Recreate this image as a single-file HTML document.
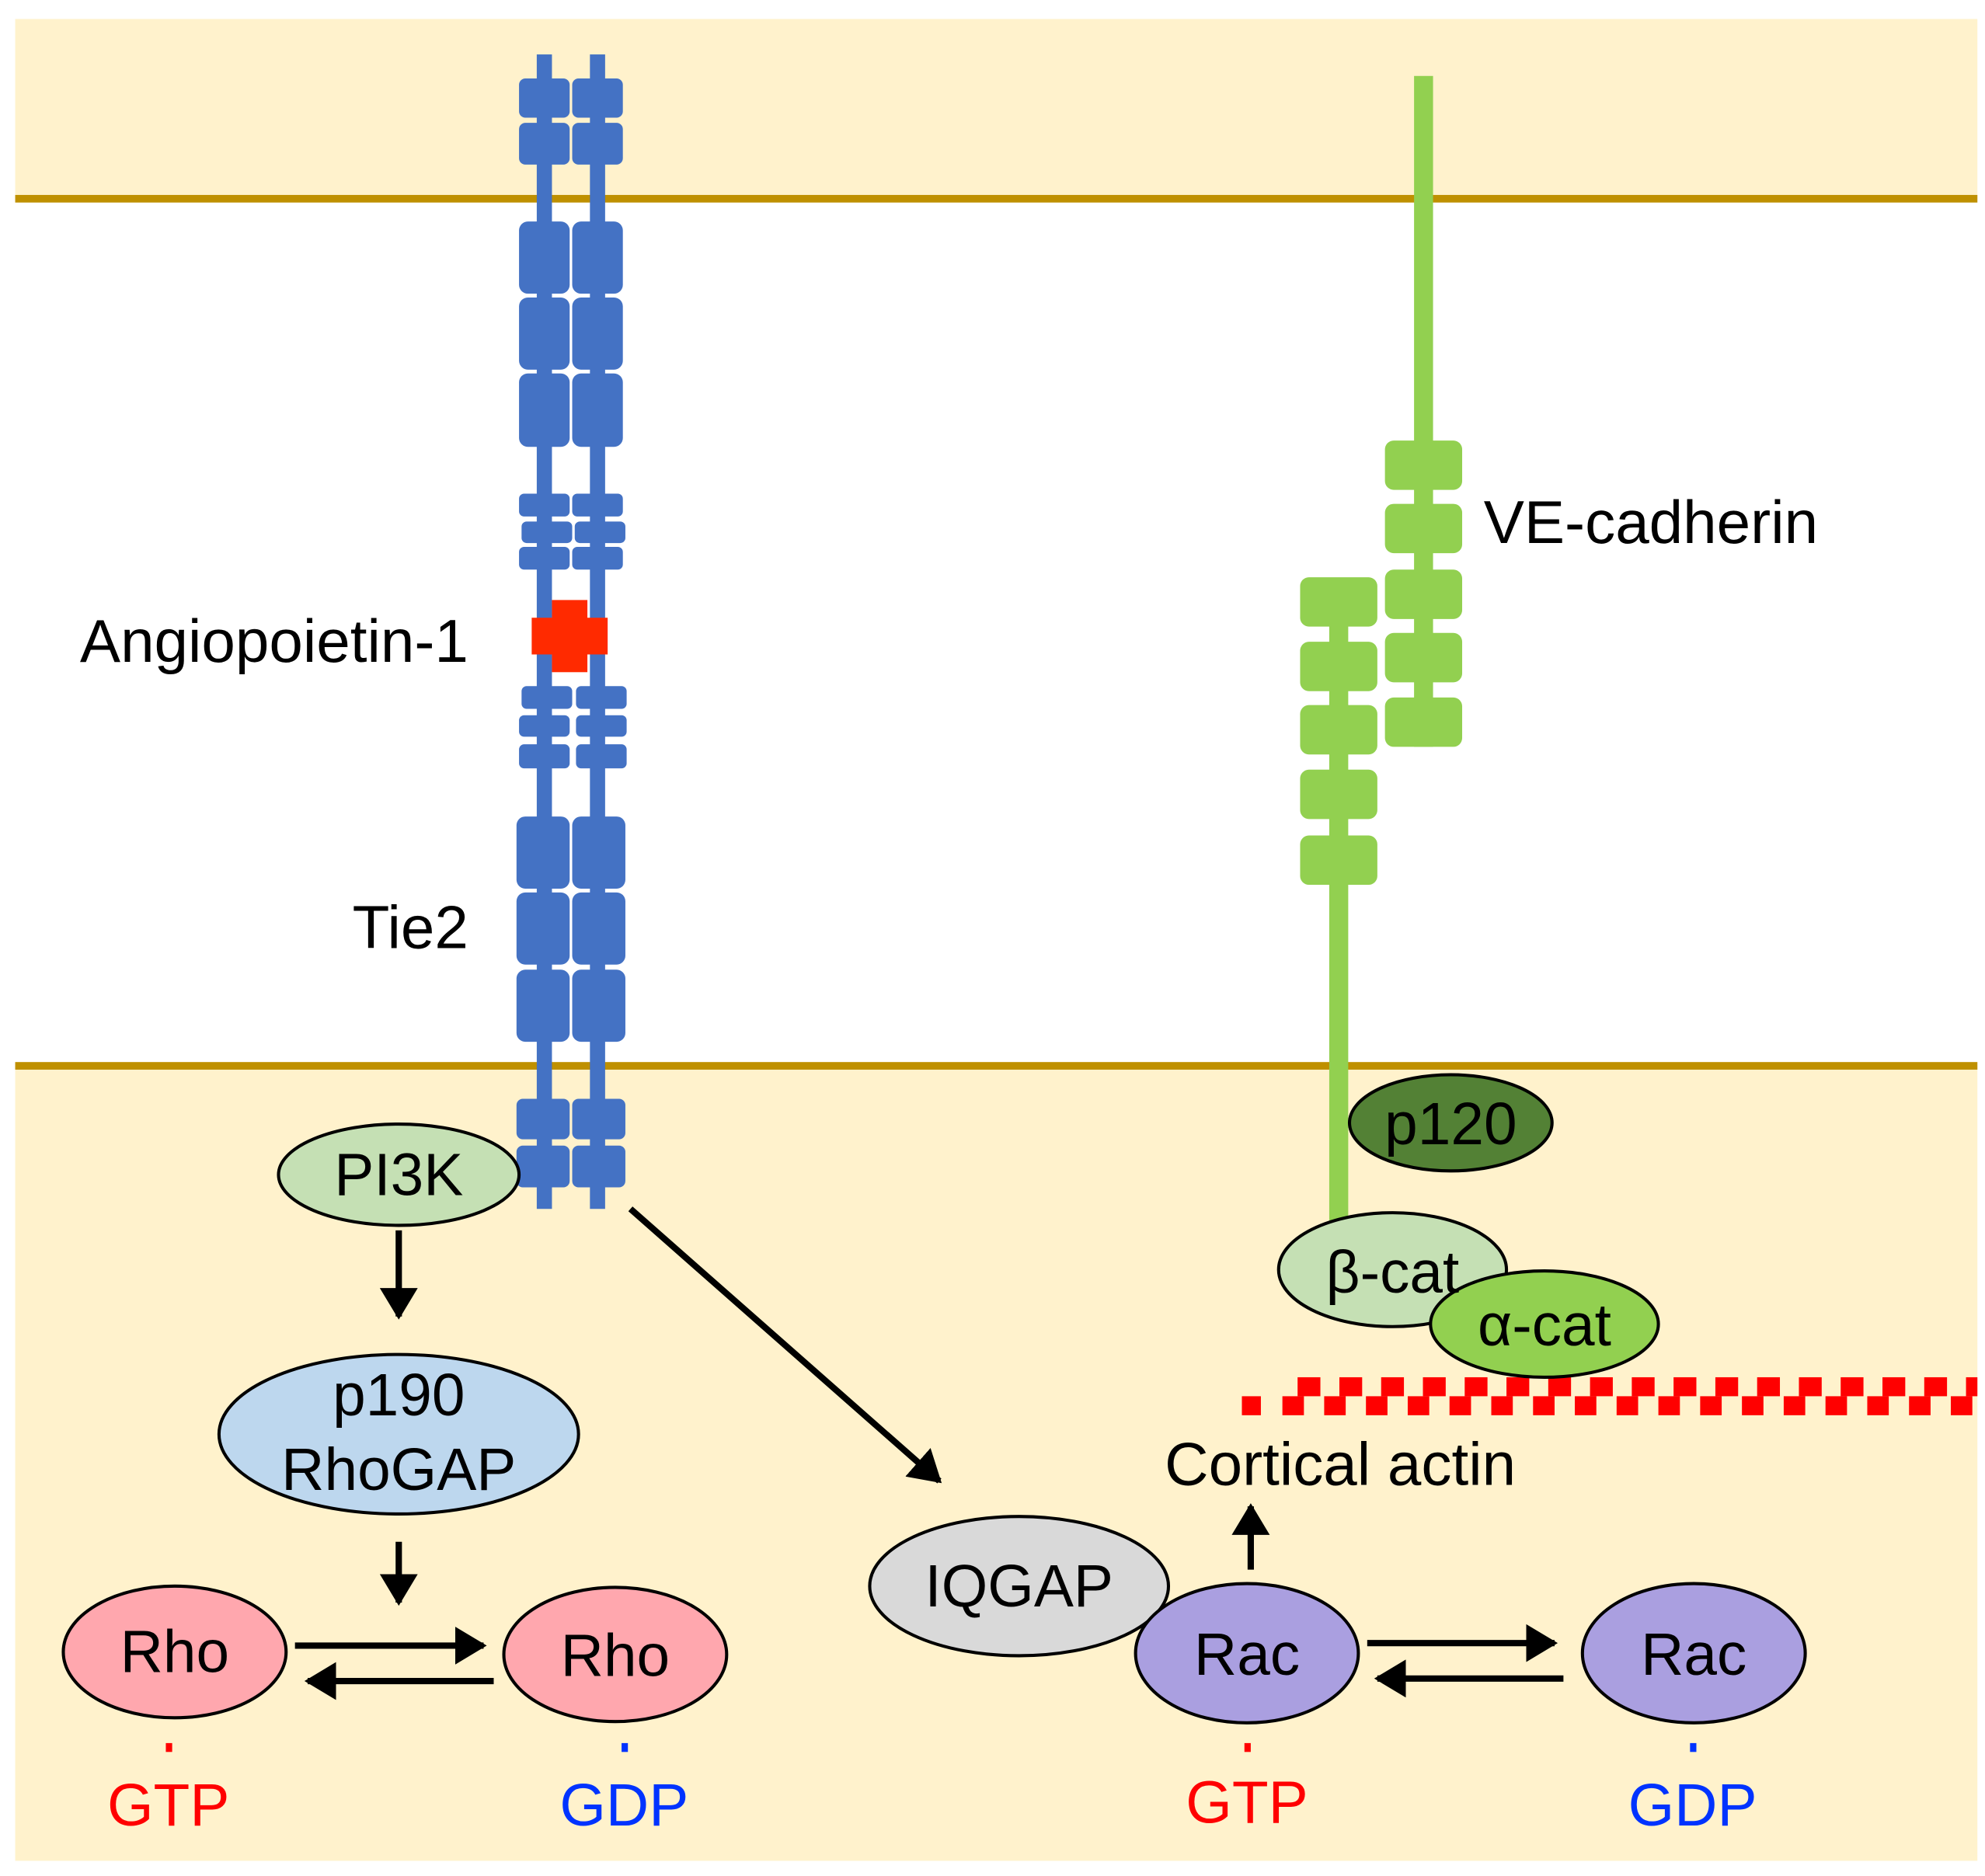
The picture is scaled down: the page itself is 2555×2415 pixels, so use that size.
<!DOCTYPE html>
<html><head><meta charset="utf-8"><style>
html,body{margin:0;padding:0;background:#fff;}
svg{display:block;}
text{font-family:"Liberation Sans",Arial,sans-serif;}
</style></head><body>
<svg width="2555" height="2415" viewBox="0 0 1568 1482" preserveAspectRatio="none" xmlns="http://www.w3.org/2000/svg">
<defs>
<marker id="ah" markerWidth="6" markerHeight="6" refX="4.5" refY="3" orient="auto" markerUnits="strokeWidth">
<path d="M0,0 L5,3 L0,6 z" fill="#000"/></marker>
<clipPath id="cl"><rect x="0" y="0" width="1562" height="1482"/></clipPath>
</defs>
<rect x="0" y="0" width="1568" height="1482" fill="#fff"/>
<rect x="12" y="15" width="1550" height="142" fill="#FFF2CC"/>
<rect x="12" y="842" width="1550" height="628" fill="#FFF2CC"/>
<rect x="12" y="154" width="1550" height="6" fill="#BF9000"/>
<rect x="12" y="839" width="1550" height="6" fill="#BF9000"/>

<!-- Tie2 -->
<g fill="#4472C4">
<rect x="424" y="43" width="12" height="912"/>
<rect x="466" y="43" width="12" height="912"/>
<rect x="410" y="62" width="40" height="31" rx="5"/><rect x="452" y="62" width="40" height="31" rx="5"/>
<rect x="410" y="97" width="40" height="33" rx="5"/><rect x="452" y="97" width="40" height="33" rx="5"/>
<rect x="410" y="175" width="40" height="57" rx="7"/><rect x="452" y="175" width="40" height="57" rx="7"/>
<rect x="410" y="235" width="40" height="57" rx="7"/><rect x="452" y="235" width="40" height="57" rx="7"/>
<rect x="410" y="295" width="40" height="58" rx="7"/><rect x="452" y="295" width="40" height="58" rx="7"/>
<rect x="410" y="390" width="40" height="18" rx="4"/><rect x="452" y="390" width="40" height="18" rx="4"/>
<rect x="412" y="412" width="40" height="17" rx="4"/><rect x="454" y="412" width="40" height="17" rx="4"/>
<rect x="410" y="432" width="40" height="18" rx="4"/><rect x="452" y="432" width="40" height="18" rx="4"/>
<rect x="412" y="542" width="40" height="18" rx="4"/><rect x="455" y="542" width="40" height="18" rx="4"/>
<rect x="410" y="565" width="40" height="17" rx="4"/><rect x="455" y="565" width="40" height="17" rx="4"/>
<rect x="410" y="588" width="40" height="19" rx="4"/><rect x="455" y="588" width="40" height="19" rx="4"/>
<rect x="408" y="645" width="42" height="57" rx="7"/><rect x="452" y="645" width="42" height="57" rx="7"/>
<rect x="408" y="705" width="42" height="57" rx="7"/><rect x="452" y="705" width="42" height="57" rx="7"/>
<rect x="408" y="766" width="42" height="57" rx="7"/><rect x="452" y="766" width="42" height="57" rx="7"/>
<rect x="408" y="868" width="42" height="32" rx="5"/><rect x="452" y="868" width="42" height="32" rx="5"/>
<rect x="408" y="905" width="42" height="33" rx="5"/><rect x="452" y="905" width="42" height="33" rx="5"/>
</g>
<rect x="420" y="488" width="60" height="29" fill="#FF2A00"/>
<rect x="436" y="474" width="28" height="57" fill="#FF2A00"/>

<!-- VE-cadherin -->
<g fill="#92D050">
<rect x="1117" y="60" width="15" height="530"/>
<rect x="1050" y="460" width="15" height="505"/>
<rect x="1094" y="348" width="61" height="39" rx="7"/>
<rect x="1094" y="398" width="61" height="39" rx="7"/>
<rect x="1094" y="450" width="61" height="39" rx="7"/>
<rect x="1094" y="500" width="61" height="39" rx="7"/>
<rect x="1094" y="551" width="61" height="39" rx="7"/>
<rect x="1027" y="456" width="61" height="39" rx="7"/>
<rect x="1027" y="507" width="61" height="39" rx="7"/>
<rect x="1027" y="557" width="61" height="39" rx="7"/>
<rect x="1027" y="608" width="61" height="39" rx="7"/>
<rect x="1027" y="660" width="61" height="39" rx="7"/>
</g>

<!-- actin -->
<g fill="#FF0000" clip-path="url(#cl)">
<rect x="981" y="1103" width="15" height="15"/>
<g id="au"><rect x="1013" y="1103" width="17" height="15"/><rect x="1025" y="1088" width="18" height="15"/></g>
<use href="#au" x="33"/><use href="#au" x="66"/><use href="#au" x="99"/><use href="#au" x="132"/>
<use href="#au" x="165"/><use href="#au" x="198"/><use href="#au" x="231"/><use href="#au" x="264"/>
<use href="#au" x="297"/><use href="#au" x="330"/><use href="#au" x="363"/><use href="#au" x="396"/>
<use href="#au" x="429"/><use href="#au" x="462"/><use href="#au" x="495"/><use href="#au" x="528"/>
</g>

<g stroke="#000" stroke-width="2.5">
<ellipse cx="1146" cy="887" rx="80" ry="38" fill="#538135"/>
<ellipse cx="1100" cy="1003" rx="90" ry="45" fill="#C5E0B4"/>
<ellipse cx="1220" cy="1046" rx="90" ry="42" fill="#92D050"/>
<ellipse cx="315" cy="928" rx="95" ry="40" fill="#C5E0B4"/>
<ellipse cx="315" cy="1133" rx="142" ry="63" fill="#BDD7EE"/>
<ellipse cx="138" cy="1305" rx="88" ry="52" fill="#FFA7AE"/>
<ellipse cx="486" cy="1307" rx="88" ry="53" fill="#FFA7AE"/>
<ellipse cx="805" cy="1253" rx="118" ry="55" fill="#D9D9D9"/>
<ellipse cx="985" cy="1306" rx="88" ry="55" fill="#AA9FE0"/>
<ellipse cx="1338" cy="1306" rx="88" ry="55" fill="#AA9FE0"/>
</g>

<g stroke="#000" stroke-width="5" fill="none" marker-end="url(#ah)">
<line x1="315" y1="972" x2="315" y2="1040"/>
<line x1="315" y1="1218" x2="315" y2="1266"/>
<line x1="233" y1="1300" x2="382" y2="1300"/>
<line x1="390" y1="1328" x2="243" y2="1328"/>
<line x1="498" y1="955" x2="742" y2="1170"/>
<line x1="1080" y1="1298" x2="1228" y2="1298"/>
<line x1="1235" y1="1326" x2="1088" y2="1326"/>
<line x1="988" y1="1240" x2="988" y2="1190"/>
</g>

<rect x="131" y="1377" width="5" height="7" fill="#FF0000"/>
<rect x="491" y="1377" width="5" height="7" fill="#0033FF"/>
<rect x="983" y="1377" width="5" height="7" fill="#FF0000"/>
<rect x="1335" y="1377" width="5" height="7" fill="#0033FF"/>

<g font-size="47" text-anchor="middle" fill="#000">
<text x="315" y="944">PI3K</text>
<text x="315" y="1118">p190</text>
<text x="315" y="1177">RhoGAP</text>
<text x="138" y="1321">Rho</text>
<text x="486" y="1324">Rho</text>
<text x="805" y="1269">IQGAP</text>
<text x="985" y="1323">Rac</text>
<text x="1338" y="1323">Rac</text>
<text x="1146" y="904">p120</text>
<text x="1100" y="1021">β-cat</text>
<text x="1220" y="1063">α-cat</text>
<text x="133" y="1442" fill="#FF0000">GTP</text>
<text x="493" y="1442" fill="#0033FF">GDP</text>
<text x="985" y="1440" fill="#FF0000">GTP</text>
<text x="1337" y="1442" fill="#0033FF">GDP</text>
</g>
<g font-size="48" fill="#000">
<text x="370" y="523" text-anchor="end">Angiopoietin-1</text>
<text x="370" y="749" text-anchor="end">Tie2</text>
<text x="1172" y="429">VE-cadherin</text>
<text x="920" y="1173">Cortical actin</text>
</g>
</svg>
</body></html>
